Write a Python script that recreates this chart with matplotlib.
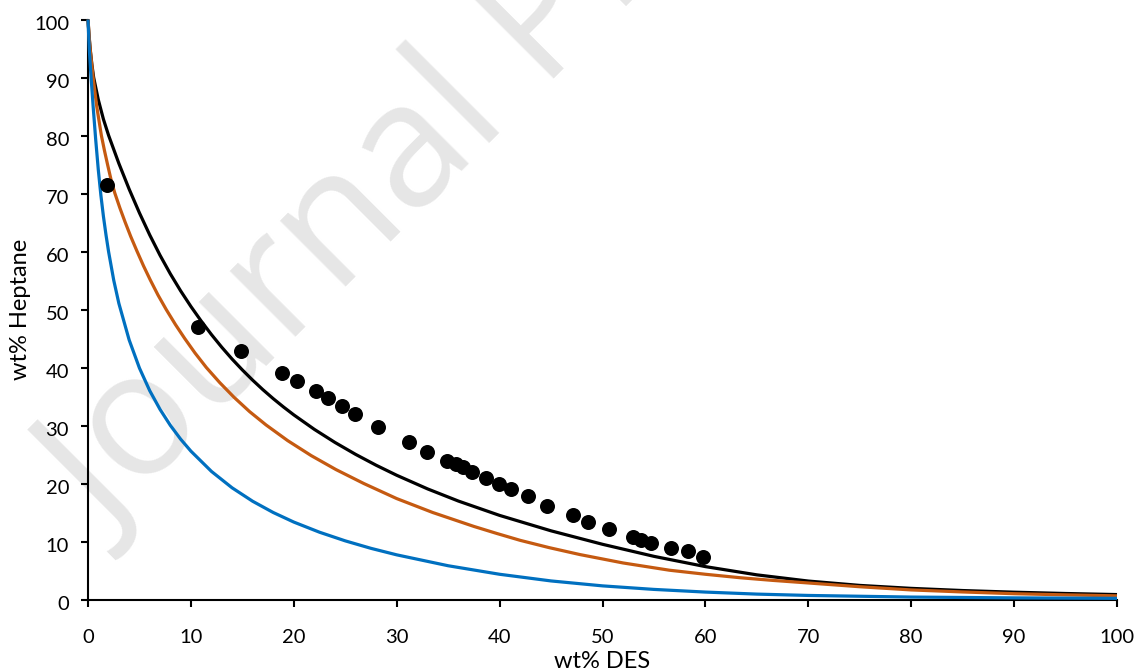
import matplotlib
matplotlib.use("Agg")
import matplotlib.pyplot as plt
from matplotlib.transforms import ScaledTranslation

# ---- data ----
exp_des = [1.85, 10.7, 14.9, 18.9, 20.3, 22.2, 23.3, 24.7, 25.9, 28.2, 31.2, 32.9,
           34.9, 35.8, 36.4, 37.3, 38.7, 39.9, 41.1, 42.8, 44.6, 47.1, 48.6, 50.6,
           53.0, 53.7, 54.7, 56.7, 58.3, 59.8]
exp_hep = [71.4, 46.9, 42.8, 39.0, 37.6, 36.0, 34.7, 33.4, 31.9, 29.7, 27.1, 25.5,
           23.8, 23.4, 22.9, 21.9, 21.0, 20.0, 19.0, 17.8, 16.2, 14.5, 13.4, 12.2,
           10.7, 10.2, 9.7, 8.8, 8.3, 7.4]

# model curves
black_x = [0, 0.1, 0.22, 0.38, 0.55, 1.0, 1.5, 2, 3, 4, 5, 6, 7, 8, 9, 10, 11, 12,
           13, 14, 15, 16, 17, 18, 19, 20, 22, 24, 26, 28, 30, 33, 36, 40, 45, 50,
           55, 60, 65, 70, 75, 80, 85, 90, 95, 100]
black_y = [100, 97.2, 94.8, 92.2, 90, 86.18, 82.8, 80.03, 75.18, 70.75, 66.65, 62.85,
           59.35, 56.15, 53.22, 50.52, 48.01, 45.67, 43.49, 41.46, 39.58, 37.82,
           36.17, 34.63, 33.19, 31.83, 29.33, 27.08, 25.03, 23.15, 21.42, 19.07,
           16.97, 14.5, 11.84, 9.52, 7.44, 5.67, 4.25, 3.18, 2.43, 1.92, 1.545,
           1.26, 1.035, 0.85]

orange_x = [0, 0.2, 0.5, 0.85, 1.3, 1.6, 1.9, 2.25, 2.6, 3.1, 3.6, 4.15, 4.75, 5.4,
            6.05, 6.8, 7.6, 8.5, 9.4, 10.4, 11.5, 12.8, 14.2, 15.7, 17.3, 19.4, 21.7,
            24.1, 26.8, 30.0, 33.5, 35.5, 37.5, 39.7, 42.0, 44.8, 47.8, 52.0, 56.5,
            60.0, 63.4, 66.5, 70.0, 75.0, 80.0, 85.0, 90.0, 95.0, 100]
orange_y = [100, 95, 90, 85, 80, 77.4, 75, 72.3, 70.1, 67.5, 65.1, 62.6, 60.1, 57.5,
            55.1, 52.5, 50, 47.4, 45, 42.5, 40, 37.4, 34.85, 32.4, 30.1, 27.4, 24.8,
            22.4, 20.0, 17.4, 15.0, 13.8, 12.6, 11.4, 10.2, 8.95, 7.75, 6.3, 5.05,
            4.35, 3.75, 3.3, 2.85, 2.2, 1.65, 1.3, 1.0, 0.8, 0.63]

blue_x = [0, 0.12, 0.3, 0.5, 0.75, 1.0, 1.25, 1.5, 1.75, 2.0, 2.5, 3, 4, 5, 6, 7, 8,
          9, 10, 12, 14, 16, 18, 20, 22.5, 25, 27.5, 30, 35, 40, 45, 50, 55, 60, 65,
          70, 80, 90, 100]
blue_y = [100, 95, 90, 85, 79.25, 74.1, 69.73, 66.04, 62.85, 59.97, 55.05, 51.05,
          44.75, 39.9, 36.0, 32.78, 30.03, 27.65, 25.58, 22.08, 19.26, 16.94, 15.0,
          13.35, 11.6, 10.11, 8.82, 7.7, 5.82, 4.35, 3.2, 2.35, 1.74, 1.28, 0.93,
          0.7, 0.42, 0.28, 0.2]

x_ticks = [0, 10, 20, 30, 40, 50, 60, 70, 80, 90, 100]
y_ticks = [0, 10, 20, 30, 40, 50, 60, 70, 80, 90, 100]
x_label = "wt% DES"
y_label = "wt% Heptane"
watermark = "Journal Pre-proof"

plt.rcParams['font.family'] = ['Lato', 'DejaVu Sans']

fig = plt.figure(figsize=(11.38, 6.69), dpi=100)
fig.patch.set_facecolor('white')
ax = fig.add_axes([88 / 1138, 69.5 / 669, 1029 / 1138, 580 / 669])
ax.patch.set_visible(False)

# watermark behind everything
fig.text(108 / 1138, (669 - 538) / 669, watermark, rotation=45, rotation_mode='anchor',
         ha='left', va='baseline', fontsize=125, color='#e6e6e6',
         family=['Open Sans', 'DejaVu Sans'], zorder=-5)

lw = 2.3
line_kw = dict(lw=lw, zorder=3, clip_on=False, solid_joinstyle='round',
               solid_capstyle='butt')
ax.plot(black_x, black_y, color='black', **line_kw)
ax.plot(orange_x, orange_y, color='#C55A11', **line_kw)
ax.plot(blue_x, blue_y, color='#0070C0', **line_kw)
ax.plot(exp_des, exp_hep, linestyle='none', marker='o', ms=10.8, color='black',
        markeredgewidth=0, zorder=4)

ax.set_xlim(0, 100)
ax.set_ylim(0, 100)
ax.set_xticks(x_ticks)
ax.set_yticks(y_ticks)
ax.set_xticklabels([str(v) for v in x_ticks])
ax.set_yticklabels([str(v) for v in y_ticks])

for s in ['top', 'right']:
    ax.spines[s].set_visible(False)
for s in ['left', 'bottom']:
    ax.spines[s].set_linewidth(1.5)
    ax.spines[s].set_color('black')

ax.tick_params(axis='x', direction='out', length=5, width=1.5, pad=16.5,
               labelsize=14.5, colors='black')
ax.tick_params(axis='y', direction='out', length=5, width=1.5, pad=8.6,
               labelsize=14.5, colors='black')

offset = ScaledTranslation(0, -0.04, fig.dpi_scale_trans)
for lab in ax.get_yticklabels():
    lab.set_transform(lab.get_transform() + offset)

ax.set_xlabel(x_label, fontsize=17)
ax.set_ylabel(y_label, fontsize=17)
ax.xaxis.set_label_coords(0.5, -51 / 580)
ax.yaxis.set_label_coords(-57 / 1029, 0.5)

fig.savefig('out.png', dpi=100)
